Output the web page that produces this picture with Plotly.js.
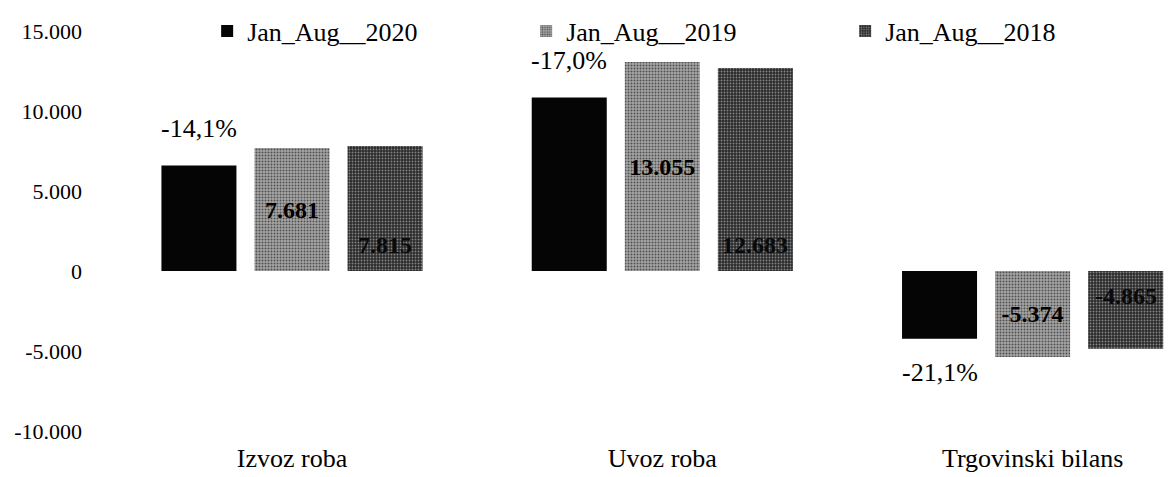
<!DOCTYPE html>
<html>
<head>
<meta charset="utf-8">
<script src="https://cdn.plot.ly/plotly-3.0.1.min.js"></script>
<style>html,body{margin:0;padding:0;background:#fff;}#chart{width:1170px;height:477px;}</style>
</head>
<body>
<div id="chart"></div>
<script>
const categories = ['Izvoz roba', 'Uvoz roba', 'Trgovinski bilans'];
const seriesNames = ['Jan_Aug__2020', 'Jan_Aug__2019', 'Jan_Aug__2018'];
const values2020 = [6598, 10836, -4240];
const values2019 = [7681, 13055, -5374];
const values2018 = [7815, 12683, -4865];
const changeLabels = ['-14,1%', '-17,0%', '-21,1%'];
const yTickVals = [-10000, -5000, 0, 5000, 10000, 15000];
const yTickText = ['-10.000', '-5.000', '0', '5.000', '10.000', '15.000'];

const fmt = v => {
  const s = Math.abs(v).toString().replace(/\B(?=(\d{3})+(?!\d))/g, '.');
  return (v < 0 ? '-' : '') + s;
};
const serif = 'Liberation Serif, Times New Roman, serif';
const BARGAP = 0.246;
const slot = (1 - BARGAP) / 3;

const traces = [
  {
    type: 'bar', name: seriesNames[0], x: categories, y: values2020,
    marker: {color: '#050505'},
    hoverinfo: 'none'
  },
  {
    type: 'bar', name: seriesNames[1], x: categories, y: values2019,
    marker: {color: '#8a8a8a', pattern: {shape: '.', fgcolor: '#505050', bgcolor: '#a6a6a6', size: 3, solidity: 0.35}},
    text: values2019.map(fmt), textposition: 'inside', insidetextanchor: 'middle',
    textangle: 0, constraintext: 'none',
    textfont: {family: serif, size: 24, color: '#000', weight: 'bold'},
    hoverinfo: 'none'
  },
  {
    type: 'bar', name: seriesNames[2], x: categories, y: values2018,
    marker: {color: '#3a3a3a', pattern: {shape: '.', fgcolor: '#858585', bgcolor: '#2a2a2a', size: 3, solidity: 0.3}},
    hoverinfo: 'none'
  }
];

const changeAnnotations = categories.map((c, i) => ({
  xref: 'x', yref: 'y', x: i - slot, y: values2020[i],
  text: changeLabels[i], showarrow: false,
  yshift: values2020[i] >= 0 ? 37 : -34,
  font: {family: serif, size: 26, color: '#000'}
}));
const label2018 = categories.map((c, i) => ({
  xref: 'x', yref: 'y', x: i + slot, y: 0,
  text: fmt(values2018[i]), showarrow: false,
  yshift: values2018[i] >= 0 ? 26 : -25,
  font: {family: serif, size: 24, color: '#0a0a0a', weight: 'bold'}
}));

const layout = {
  width: 1170, height: 477,
  margin: {l: 120, r: 0, t: 31, b: 46, autoexpand: false},
  paper_bgcolor: '#fff', plot_bgcolor: '#fff',
  barmode: 'group', bargap: BARGAP, bargroupgap: 0.194,
  font: {family: serif, size: 22, color: '#000'},
  showlegend: true,
  legend: {
    orientation: 'h', x: 0.083, xanchor: 'left', y: 1.0, yanchor: 'middle',
    entrywidth: 274, entrywidthmode: 'pixels', traceorder: 'normal',
    bgcolor: 'rgba(0,0,0,0)',
    font: {family: serif, size: 26, color: '#000'}, itemwidth: 30
  },
  xaxis: {
    type: 'category', range: [-0.4645, 2.371],
    showgrid: false, zeroline: false, showline: false, ticks: '',
    ticklabelstandoff: 9, tickfont: {family: serif, size: 26, color: '#000'}
  },
  yaxis: {
    range: [-10000, 15000], tickvals: yTickVals, ticktext: yTickText,
    showgrid: false, zeroline: false, showline: false, ticks: '',
    ticklabelstandoff: 37, tickfont: {family: serif, size: 22, color: '#000'}
  },
  annotations: changeAnnotations.concat(label2018)
};

Plotly.newPlot('chart', traces, layout, {displayModeBar: false, staticPlot: true});
</script>
</body>
</html>
